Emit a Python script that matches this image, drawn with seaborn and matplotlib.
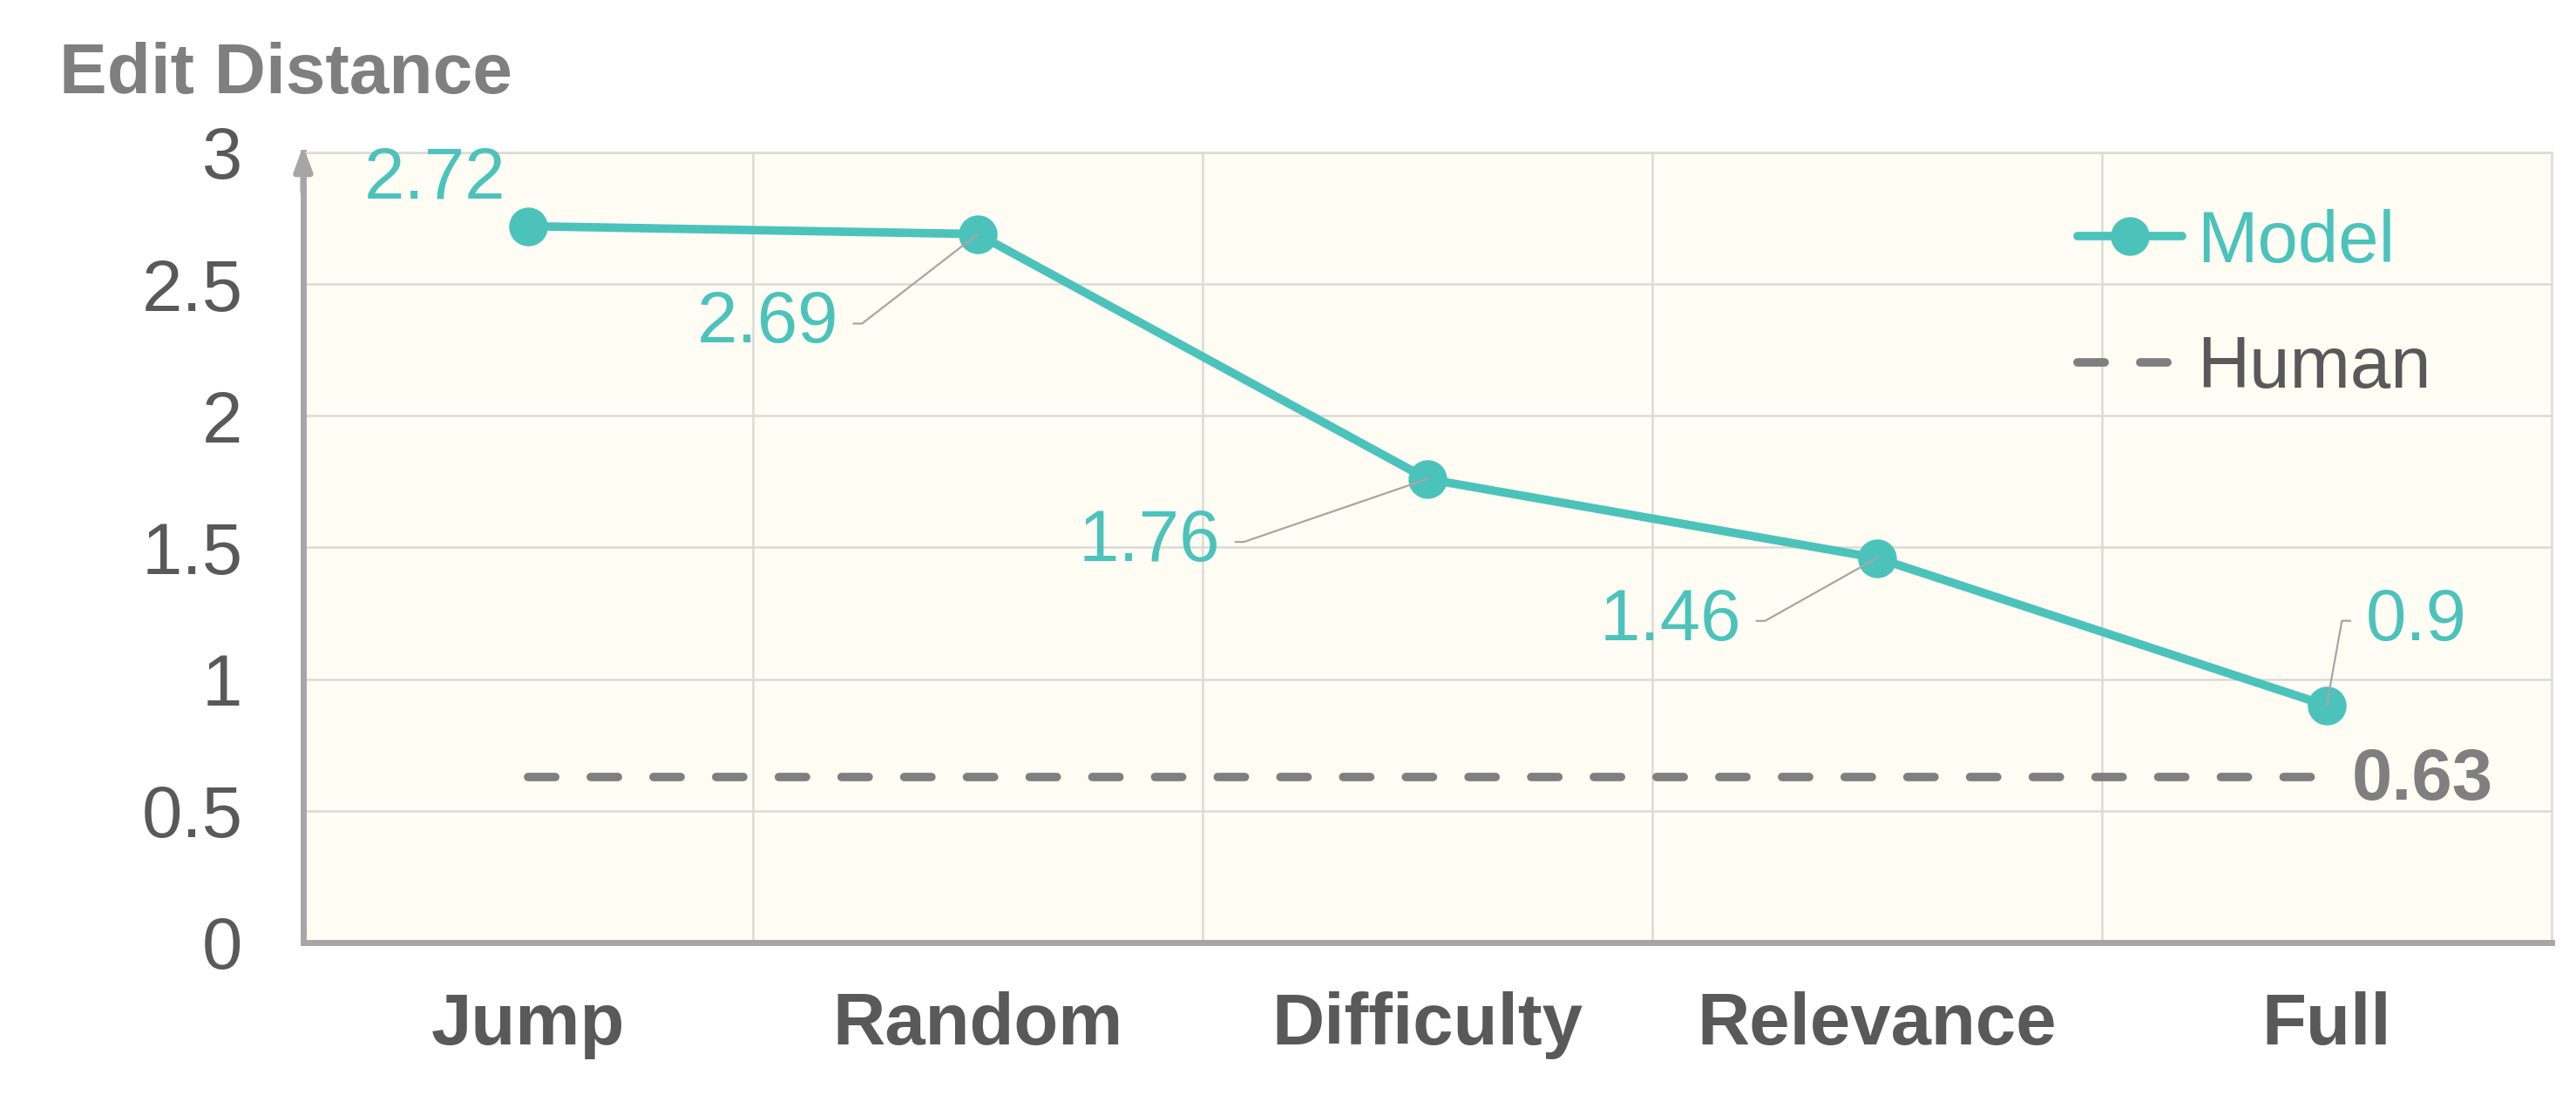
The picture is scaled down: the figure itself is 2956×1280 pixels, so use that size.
import pandas as pd
import seaborn as sns
import matplotlib.pyplot as plt

# Chart data
methods = ['Jump', 'Random', 'Difficulty', 'Relevance', 'Full']
model_scores = [2.72, 2.69, 1.76, 1.46, 0.9]
human_score = 0.63
y_ticks = [0, 0.5, 1, 1.5, 2, 2.5, 3]
y_tick_labels = ['0', '0.5', '1', '1.5', '2', '2.5', '3']

# Colours
teal = '#4BC3BB'
dark_gray = '#595959'
mid_gray = '#7F7F7F'
axis_gray = '#A6A6A6'
grid_gray = '#DCDAD5'

sns.set_style('white', {'axes.facecolor': '#FFFCF4'})
plt.rcParams['font.family'] = ['Liberation Sans', 'DejaVu Sans']

df = pd.DataFrame({
    'method': methods,
    'model': model_scores,
    'human': [human_score] * len(methods),
})

fig, ax = plt.subplots(figsize=(29.56, 12.8), dpi=100)
fig.subplots_adjust(left=0.1177, right=0.9905, bottom=0.1547, top=0.8633)

# Lines
sns.lineplot(data=df, x='method', y='human', color=mid_gray, linewidth=7,
             linestyle=(0, (3.2, 4.2)), dash_capstyle='round',
             label='Human', ax=ax, zorder=3)
sns.lineplot(data=df, x='method', y='model', color=teal, linewidth=7,
             marker='o', markersize=32, markeredgewidth=0,
             label='Model', ax=ax, zorder=4)

ax.set_xlim(-0.5, len(methods) - 0.5)
ax.set_ylim(0, 3)

# Grid: horizontal at every tick, vertical between categories
ax.set_yticks(y_ticks)
ax.set_yticklabels(y_tick_labels)
ax.set_xticks(range(len(methods)))
ax.set_xticklabels(methods)
ax.set_xticks([i + 0.5 for i in range(len(methods) - 1)], minor=True)
ax.grid(axis='y', which='major', color=grid_gray, linewidth=1.8, zorder=0)
ax.grid(axis='x', which='minor', color=grid_gray, linewidth=1.8, zorder=0)
ax.set_axisbelow(True)

ax.tick_params(axis='y', length=0, pad=50, labelsize=60, labelcolor=dark_gray)
ax.tick_params(axis='x', which='major', length=0, pad=40, labelsize=60,
               labelcolor=dark_gray)
ax.tick_params(axis='x', which='minor', length=0)
for lab in ax.get_xticklabels():
    lab.set_fontweight('bold')

ax.set_xlabel('')
ax.set_ylabel('')

for side in ['left', 'bottom']:
    ax.spines[side].set_color(axis_gray)
    ax.spines[side].set_linewidth(5)
for side in ['top', 'right']:
    ax.spines[side].set_color(grid_gray)
    ax.spines[side].set_linewidth(1.8)

# arrow head on the y axis
ax.annotate('', xy=(0, 1.008), xytext=(0, 0.95), xycoords='axes fraction',
            arrowprops=dict(arrowstyle='-|>,head_length=16,head_width=6',
                            mutation_scale=1, color=axis_gray, lw=5,
                            shrinkA=0, shrinkB=0), annotation_clip=False)

# Value labels (offsets in points from each marker)
label_offsets = [(-77, 39), (-115, -74), (-171, -52), (-112, -52), (32, 70)]
label_align = ['center', 'right', 'right', 'right', 'left']
leader = [False, True, True, True, True]
for i, (m, v) in enumerate(zip(methods, model_scores)):
    kw = {}
    if leader[i]:
        right = label_align[i] == 'right'
        kw['arrowprops'] = dict(
            arrowstyle='-', color=axis_gray, lw=1.6,
            shrinkA=10, shrinkB=0,
            relpos=(1, 0.5) if right else (0, 0.5),
            connectionstyle='arc,angleA=%d,armA=27,angleB=0,armB=0,rad=0'
                            % (0 if right else 180))
    ax.annotate(f'{v:g}', xy=(i, v), xytext=label_offsets[i],
                textcoords='offset points', ha=label_align[i], va='center',
                fontsize=60, color=teal, zorder=6, **kw)

ax.annotate(f'{human_score:g}', xy=(len(methods) - 1, human_score),
            xytext=(21, -3), textcoords='offset points', ha='left',
            va='center', fontsize=60, fontweight='bold', color=mid_gray)

# Legend: Model first
handles, labels = ax.get_legend_handles_labels()
order = [labels.index('Model'), labels.index('Human')]
ax.legend([handles[k] for k in order], [labels[k] for k in order],
          loc='center left', bbox_to_anchor=(0.789, 0.806), frameon=False,
          fontsize=60, handlelength=1.45, handletextpad=0.2, labelspacing=0.8,
          borderpad=0, borderaxespad=0, labelcolor=[teal, dark_gray])

fig.text(0.023, 1 - 107 / 1280, 'Edit Distance', fontsize=59,
         fontweight='bold', color=mid_gray, ha='left', va='baseline')

fig.savefig('out.png', dpi=100, facecolor='white')
